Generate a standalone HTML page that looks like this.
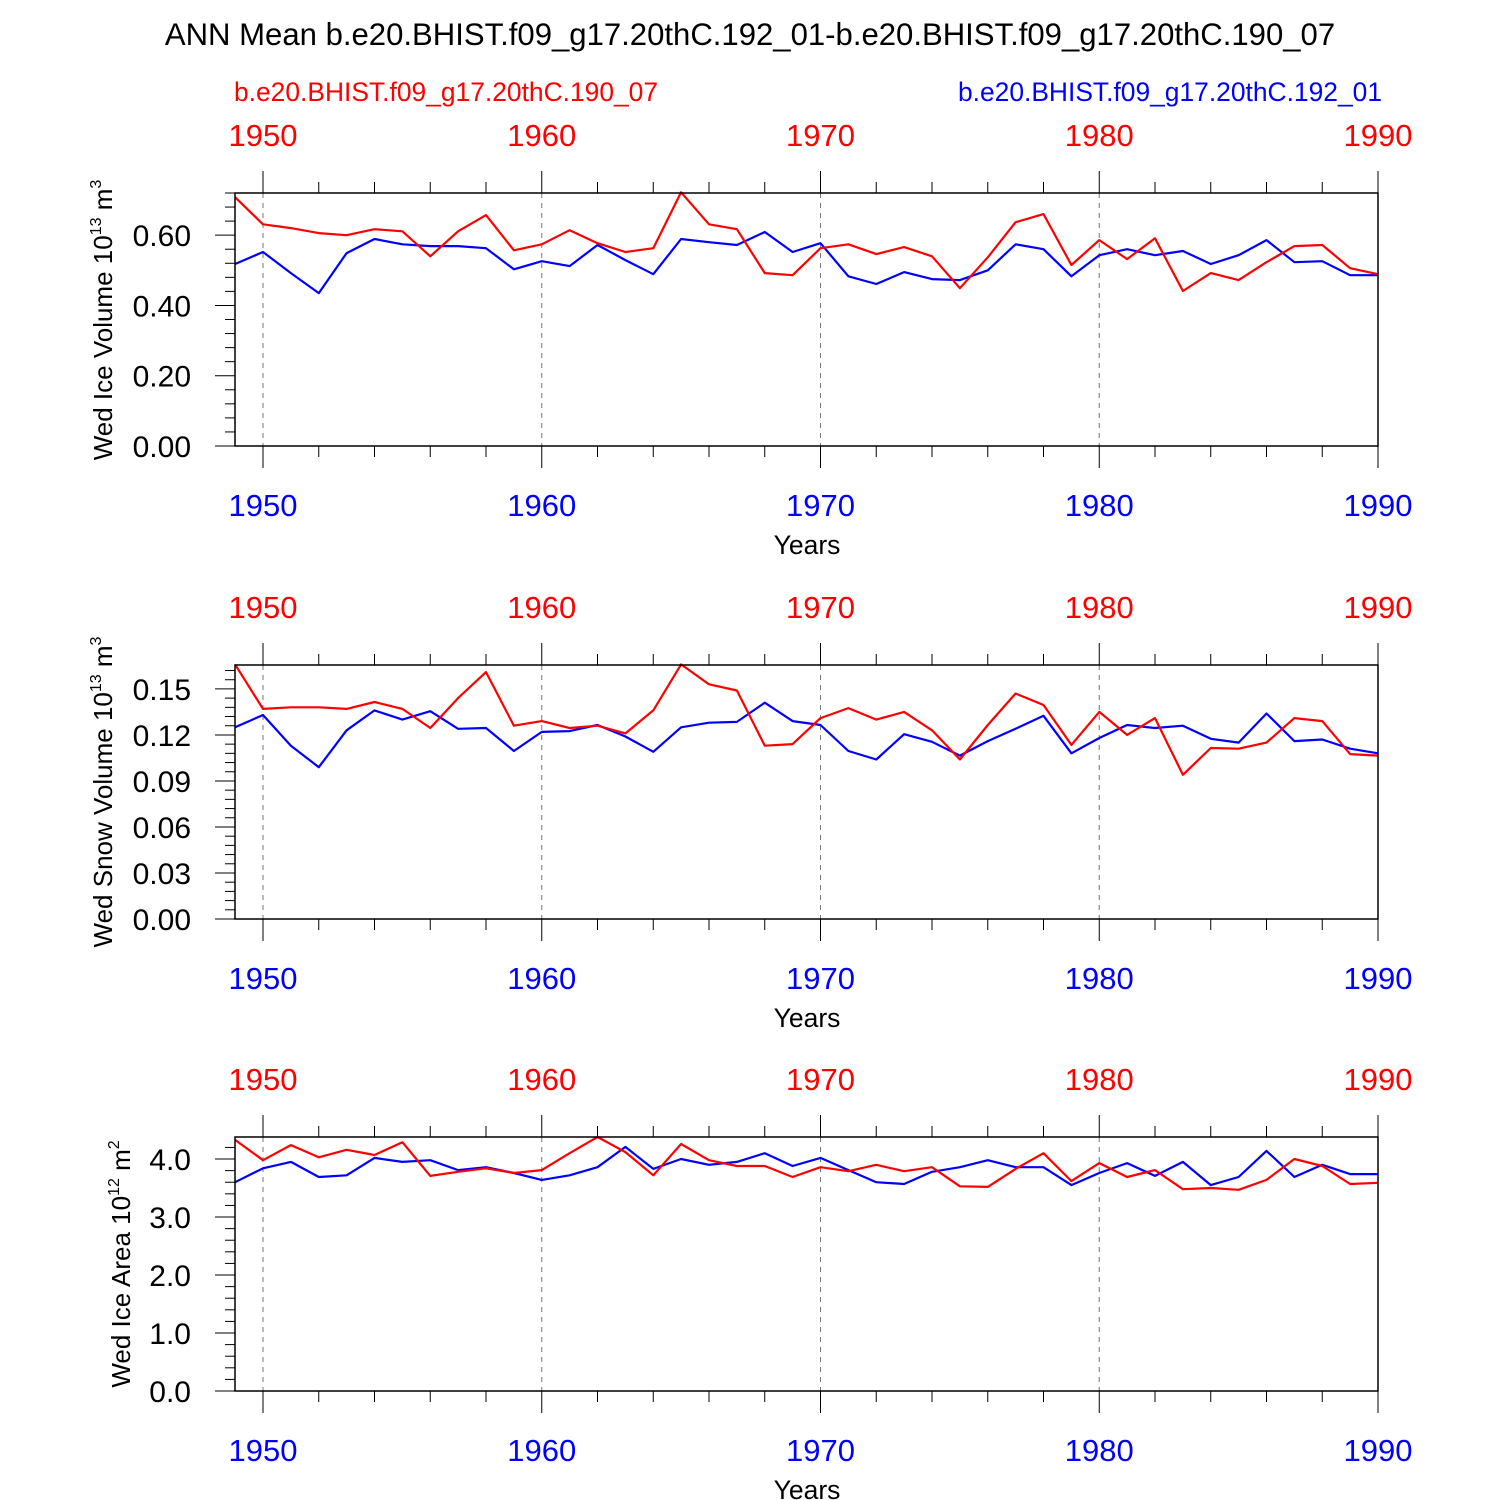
<!DOCTYPE html>
<html><head><meta charset="utf-8"><style>
body{margin:0;background:#fff}
svg{display:block;font-family:"Liberation Sans",sans-serif}
</style></head><body>
<svg id="chart" width="1500" height="1500" viewBox="0 0 1500 1500">
<text x="750" y="45" font-size="31.1" text-anchor="middle">ANN Mean b.e20.BHIST.f09_g17.20thC.192_01-b.e20.BHIST.f09_g17.20thC.190_07</text>
<text x="234" y="101" font-size="26.4" fill="#f00">b.e20.BHIST.f09_g17.20thC.190_07</text>
<text x="1382" y="101" font-size="26.4" fill="#00f" text-anchor="end">b.e20.BHIST.f09_g17.20thC.192_01</text>
</svg>
<script>
const years=[];for(let y=1949;y<=1990;y++)years.push(y);
const iceVolRed=[0.708,0.631,0.62,0.606,0.60,0.617,0.611,0.54,0.611,0.657,0.557,0.574,0.614,0.577,0.552,0.563,0.722,0.631,0.617,0.492,0.486,0.563,0.574,0.546,0.566,0.54,0.449,0.537,0.637,0.66,0.515,0.586,0.532,0.591,0.441,0.492,0.472,0.523,0.569,0.572,0.506,0.489];
const iceVolBlue=[0.518,0.552,0.492,0.435,0.549,0.589,0.574,0.569,0.569,0.563,0.503,0.526,0.512,0.572,0.529,0.489,0.589,0.58,0.572,0.609,0.552,0.577,0.483,0.461,0.495,0.475,0.472,0.5,0.574,0.56,0.483,0.543,0.56,0.543,0.555,0.518,0.543,0.586,0.523,0.526,0.486,0.486];
const snowVolRed=[0.166,0.137,0.138,0.138,0.137,0.1415,0.137,0.1245,0.144,0.161,0.126,0.129,0.1245,0.126,0.121,0.136,0.166,0.153,0.149,0.113,0.114,0.131,0.1375,0.130,0.135,0.123,0.104,0.1265,0.147,0.1395,0.1135,0.135,0.12,0.131,0.094,0.1115,0.111,0.115,0.131,0.129,0.1075,0.1065];
const snowVolBlue=[0.125,0.133,0.113,0.099,0.123,0.136,0.13,0.1355,0.124,0.1245,0.1095,0.122,0.1225,0.1265,0.119,0.109,0.125,0.128,0.1285,0.141,0.129,0.1265,0.1095,0.104,0.1205,0.1155,0.1065,0.116,0.124,0.1325,0.108,0.118,0.1265,0.1245,0.126,0.1175,0.115,0.134,0.116,0.117,0.111,0.108];
const iceAreaRed=[4.33,3.98,4.24,4.03,4.16,4.07,4.29,3.71,3.78,3.84,3.76,3.81,4.10,4.38,4.12,3.72,4.26,3.98,3.88,3.88,3.69,3.86,3.79,3.90,3.79,3.86,3.53,3.52,3.83,4.10,3.62,3.93,3.69,3.81,3.48,3.50,3.47,3.64,4.0,3.88,3.57,3.59];
const iceAreaBlue=[3.60,3.84,3.95,3.69,3.72,4.02,3.95,3.98,3.81,3.86,3.76,3.64,3.72,3.86,4.21,3.83,4.0,3.90,3.95,4.10,3.88,4.02,3.81,3.60,3.57,3.78,3.86,3.98,3.86,3.86,3.55,3.76,3.93,3.71,3.95,3.55,3.69,4.14,3.69,3.90,3.74,3.74];
const xTickLabels=[1950,1960,1970,1980,1990];
const svg=document.getElementById('chart');const NS='http://www.w3.org/2000/svg';
function mk(tag,at,parent){const e=document.createElementNS(NS,tag);for(const k in at)e.setAttribute(k,at[k]);(parent||svg).appendChild(e);return e;}
const X0=235,X1=1378;
function xs(y){return 263+(y-1950)*27.875;}
const panels=[
 {top:193,bot:446,max:0.72,step:0.2,minor:0.04,dec:2,red:iceVolRed,blue:iceVolBlue,title:'Wed Ice Volume 10',sup:'13',unit:' m',usup:'3',ty:320,tx:112,name:'ice-volume'},
 {top:665,bot:919,max:0.1656,step:0.03,minor:0.006,dec:2,red:snowVolRed,blue:snowVolBlue,title:'Wed Snow Volume 10',sup:'13',unit:' m',usup:'3',ty:792,tx:112,name:'snow-volume'},
 {top:1137,bot:1391,max:4.38,step:1.0,minor:0.2,dec:1,red:iceAreaRed,blue:iceAreaBlue,title:'Wed Ice Area 10',sup:'12',unit:' m',usup:'2',ty:1264,tx:130,name:'ice-area'}
];
panels.forEach(p=>{
 const g=mk('g',{});
 
 
 const ys=v=>p.bot-(v/p.max)*(p.bot-p.top);
 xTickLabels.forEach(t=>{
  const l=mk('line',{x1:xs(t),x2:xs(t),y1:p.top,y2:p.bot,stroke:'#777','stroke-width':1,'stroke-dasharray':'5,5'},g);
  
  
 });
 for(let y=1950;y<=1990;y+=2){
  const maj=(y%10===0),len=maj?22:11;
  mk('line',{x1:xs(y),x2:xs(y),y1:p.top,y2:p.top-len,stroke:'#000','stroke-width':1},g);
  mk('line',{x1:xs(y),x2:xs(y),y1:p.bot,y2:p.bot+len,stroke:'#000','stroke-width':1},g);
 }
 for(let v=0;v<=p.max+1e-9;v+=p.minor){
  const maj=Math.abs(v/p.step-Math.round(v/p.step))<1e-6;
  mk('line',{x1:X0,x2:X0-(maj?20:10),y1:ys(v),y2:ys(v),stroke:'#000','stroke-width':1},g);
  if(maj){const t=mk('text',{x:191,y:ys(v)+11,'font-size':30,'text-anchor':'end'},g);t.textContent=v.toFixed(p.dec);
   }
 }
 xTickLabels.forEach(t=>{
  const a=mk('text',{x:xs(t),y:p.top-47,'font-size':31,'text-anchor':'middle',fill:'#f00'},g);a.textContent=t;
  
  const b=mk('text',{x:xs(t),y:p.bot+70,'font-size':31,'text-anchor':'middle',fill:'#00f'},g);b.textContent=t;
  
 });
 const xt=mk('text',{x:807,y:p.bot+108,'font-size':26.5,'text-anchor':'middle'},g);xt.textContent='Years';
 
 const yt=mk('text',{x:0,y:0,'font-size':26,'text-anchor':'middle',transform:`translate(${p.tx},${p.ty}) rotate(-90)`},g);
 
 yt.innerHTML=p.title+'<tspan font-size="16" dy="-11">'+p.sup+'</tspan><tspan dy="11">'+p.unit+'</tspan><tspan font-size="16" dy="-11">'+p.usup+'</tspan>';
 [['blue',p.blue,'#00f'],['red',p.red,'#f00']].forEach(([n,arr,c])=>{
  const pts=arr.map((v,i)=>xs(years[i]).toFixed(1)+','+ys(v).toFixed(1)).join(' ');
  const pl=mk('polyline',{points:pts,fill:'none',stroke:c,'stroke-width':2.2,'stroke-linejoin':'round'},g);
  
  
 });
 const r=mk('rect',{x:X0,y:p.top,width:X1-X0,height:p.bot-p.top,fill:'none',stroke:'#000','stroke-width':1.5},g);
 
});
</script>
</body></html>
